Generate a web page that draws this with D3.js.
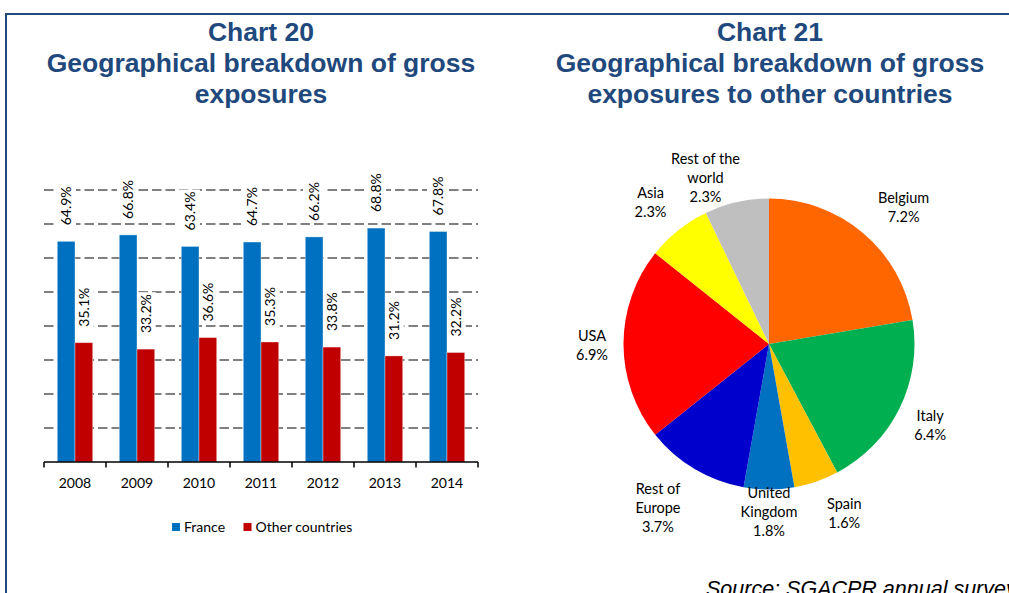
<!DOCTYPE html>
<html>
<head>
<meta charset="utf-8">
<script src="https://cdn.jsdelivr.net/npm/d3@7"></script>
<style>
	body{margin:0;background:#fff;}
	svg{display:block;font-family:Lato,"Open Sans",sans-serif;}
	.title{font-family:"Liberation Sans",Arial,sans-serif;font-weight:bold;font-size:26.5px;fill:#1F497D;text-anchor:middle;}
	.gridLine{stroke:#808080;stroke-width:2;stroke-dasharray:9.5,4;}
	.barLabel,.yearLabel,.legendText{font-size:14px;fill:#000;}
	.pieLabel{font-size:14.5px;fill:#000;}
	.source{font-family:"Liberation Sans",Arial,sans-serif;font-style:italic;font-size:21.5px;fill:#000;}
</style>
</head>
<body>
<script>
//wrap everything in a self-executing anonymous function
(function(){
	//bar chart data
	var years=["2008","2009","2010","2011","2012","2013","2014"];
	var seriesNames=["France","Other countries"];
	var franceValues=[64.9,66.8,63.4,64.7,66.2,68.8,67.8];
	var otherValues=[35.1,33.2,36.6,35.3,33.8,31.2,32.2];
	var yTicks=[10,20,30,40,50,60,70,80];

	//pie chart data
	var pieCategories=["Belgium","Italy","Spain","United\nKingdom","Rest of\nEurope","USA","Asia","Rest of the\nworld"];
	var pieValues=[7.2,6.4,1.6,1.8,3.7,6.9,2.3,2.3];
	var pieColors=["#FF6600","#00B050","#FFC000","#0070C0","#0000CC","#FF0000","#FFFF00","#BFBFBF"];
	var barColors=["#0070C0","#C00000"];

window.onload=setPage();

function setPage(){
	var svg=d3.select("body")
		.append("svg")
		.attr("width",1009)
		.attr("height",593);

	//blue frame round the page
	svg.append("path")
		.attr("d","M6,593V14H1009")
		.attr("fill","none")
		.attr("stroke","#1F497D")
		.attr("stroke-width",2);

	setTitle(svg,261,["Chart 20","Geographical breakdown of gross","exposures"]);
	setTitle(svg,770,["Chart 21","Geographical breakdown of gross","exposures to other countries"]);

	setBarChart(svg);
	setPie(svg);

	svg.append("text")
		.attr("class","source")
		.attr("x",706)
		.attr("y",596)
		.text("Source: SGACPR annual survey");
};

//three line title
function setTitle(svg,cx,lines){
	svg.append("text")
		.attr("class","title")
		.selectAll("tspan")
		.data(lines)
		.enter()
		.append("tspan")
		.attr("x",cx)
		.attr("y",function(d,i){return 41+i*31;})
		.text(function(d){return d;});
};

//clustered column chart
function setBarChart(svg){
	var left=44,right=478,bottom=462,top=190;

	var x0=d3.scaleBand()
		.domain(years)
		.range([left,right]);

	var x1=d3.scaleBand()
		.domain(seriesNames)
		.range([0,x0.bandwidth()])
		.paddingOuter(0.75);

	var y=d3.scaleLinear()
		.domain([0,80])
		.range([bottom,top]);

	var colorScale=d3.scaleOrdinal()
		.domain(seriesNames)
		.range(barColors);

	//dashed gridlines
	svg.selectAll(".gridLine")
		.data(yTicks)
		.enter()
		.append("line")
		.attr("class","gridLine")
		.attr("x1",left)
		.attr("x2",right)
		.attr("y1",function(d){return y(d);})
		.attr("y2",function(d){return y(d);});

	//one record per bar
	var barData=[];
	years.forEach(function(yr,i){
		barData.push({year:yr,name:seriesNames[0],value:franceValues[i]});
		barData.push({year:yr,name:seriesNames[1],value:otherValues[i]});
	});

	function barCenter(d){
		return x0(d.year)+x1(d.name)+x1.bandwidth()/2;
	};
	function labelTransform(d){
		return "translate("+barCenter(d)+","+(y(d.value)-16)+") rotate(-90)";
	};

	//value labels (white box sits under the bars, text over them)
	var labels=svg.selectAll(".barLabel")
		.data(barData)
		.enter()
		.append("text")
		.attr("class","barLabel")
		.attr("transform",labelTransform)
		.attr("dy","0.35em")
		.text(function(d){return d.value.toFixed(1)+"%";});

	var boxes=svg.selectAll(".labelBox")
		.data(barData)
		.enter()
		.insert("rect",".barLabel")
		.attr("class","labelBox")
		.attr("fill","#fff")
		.attr("transform",labelTransform);
	boxes.each(function(d,i){
		var b=labels.nodes()[i].getBBox();
		d3.select(this)
			.attr("x",b.x-2)
			.attr("y",b.y-2)
			.attr("width",b.width+4)
			.attr("height",b.height+4);
	});

	svg.selectAll("rect.bar")
		.data(barData)
		.enter()
		.insert("rect",".barLabel")
		.attr("class","bar")
		.attr("x",function(d){return x0(d.year)+x1(d.name);})
		.attr("width",x1.bandwidth())
		.attr("y",function(d){return y(d.value);})
		.attr("height",function(d){return bottom-y(d.value);})
		.style("fill",function(d){return colorScale(d.name);})
		.style("stroke","rgba(255,255,255,0.45)")
		.style("stroke-width",0.8);

	//axis line and ticks between categories
	svg.append("line")
		.attr("x1",left)
		.attr("x2",right)
		.attr("y1",bottom)
		.attr("y2",bottom)
		.attr("stroke","#000")
		.attr("stroke-width",1.5);

	var tickPos=years.map(function(d){return x0(d);}).concat([right]);
	svg.selectAll(".catTick")
		.data(tickPos)
		.enter()
		.append("line")
		.attr("class","catTick")
		.attr("x1",function(d){return d;})
		.attr("x2",function(d){return d;})
		.attr("y1",bottom)
		.attr("y2",bottom+5.5)
		.attr("stroke","#000")
		.attr("stroke-width",1.5);

	svg.selectAll(".yearLabel")
		.data(years)
		.enter()
		.append("text")
		.attr("class","yearLabel")
		.attr("x",function(d){return x0(d)+x0.bandwidth()/2;})
		.attr("y",488)
		.attr("text-anchor","middle")
		.text(function(d){return d;});

	//legend
	var legendX=[172,243.5];
	var legend=svg.selectAll(".legend")
		.data(seriesNames)
		.enter()
		.append("g")
		.attr("class","legend")
		.attr("transform",function(d,i){return "translate("+legendX[i]+",523)";});
	legend.append("rect")
		.attr("width",8)
		.attr("height",8)
		.style("fill",function(d){return colorScale(d);});
	legend.append("text")
		.attr("class","legendText")
		.attr("x",12)
		.attr("y",9)
		.text(function(d){return d;});
};

//pie chart of other countries
function setPie(svg){
	var cx=769,cy=344,radius=145.5;

	//small nudges of the labels off the radial position, as in the original layout
	var labelNudge=[[17,2],[-2,1],[16,-3],[0,-14],[-18,8],[5,1],[-5,1],[-23,11]];

	var pie=d3.pie()
		.sort(null)
		.value(function(d){return d;});

	var arc=d3.arc()
		.innerRadius(0)
		.outerRadius(radius);

	var labelArc=d3.arc()
		.innerRadius(182)
		.outerRadius(182);

	var g=svg.append("g")
		.attr("transform","translate("+cx+","+cy+")");

	var arcs=pie(pieValues);

	g.selectAll(".slice")
		.data(arcs)
		.enter()
		.append("path")
		.attr("class","slice")
		.attr("d",arc)
		.style("fill",function(d,i){return pieColors[i];});

	var labels=g.selectAll(".pieLabel")
		.data(arcs)
		.enter()
		.append("text")
		.attr("class","pieLabel")
		.attr("text-anchor","middle");

	labels.each(function(d,i){
		var lines=pieCategories[i].split("\n").concat([d.data.toFixed(1)+"%"]);
		var c=labelArc.centroid(d);
		var lx=c[0]+labelNudge[i][0],
			ly=c[1]+labelNudge[i][1];
		var start=ly-(lines.length-1)*19/2;
		d3.select(this).selectAll("tspan")
			.data(lines)
			.enter()
			.append("tspan")
			.attr("x",lx)
			.attr("y",function(t,j){return start+j*19;})
			.attr("dy","0.35em")
			.text(function(t){return t;});
	});
};

})();
</script>
</body>
</html>
